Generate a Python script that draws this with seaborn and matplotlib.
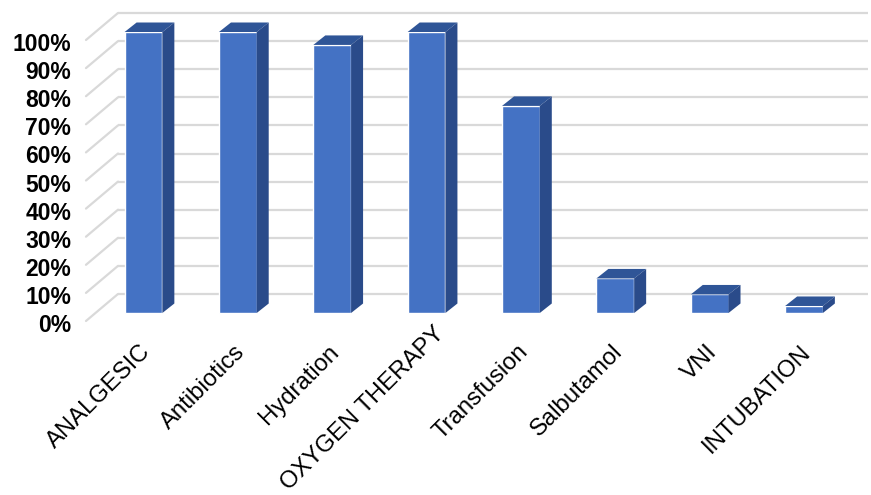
import seaborn as sns
import matplotlib.pyplot as plt
from matplotlib.patches import Polygon
from matplotlib.transforms import ScaledTranslation

""" data """
categories = ['ANALGESIC', 'Antibiotics', 'Hydration', 'OXYGEN THERAPY',
              'Transfusion', 'Salbutamol', 'VNI', 'INTUBATION']
percent = [100, 100, 95.4, 100, 73.7, 12.3, 6.6, 2.5]
yticks = list(range(0, 101, 10))
ytick_labels = ['{}%'.format(t) for t in yticks]

""" config """
sns.set_theme(style='white')
plt.rcParams['font.family'] = ['Liberation Sans', 'DejaVu Sans']

FRONT = '#4472C4'
TOP = '#2F5597'
SIDE = '#2A4B8A'
GRID = '#D9D9D9'

W, H = 871, 495
PX_X = 94.36   # pixels per category
PX_Y = 2.81    # pixels per percent

fig = plt.figure(figsize=(W / 100, H / 100), dpi=100)
ax = fig.add_axes([96.3 / W, (H - 313) / H, 8 * PX_X / W, 100 * PX_Y / H])

# fake 3d offsets (in data units)
bar_dx, bar_dy = 12 / PX_X, 9.5 / PX_Y
wall_dy = 19 / PX_Y
front_dy = -8 / PX_Y
wall_x0, wall_x1 = (118 - 143.5) / PX_X, (868 - 143.5) / PX_X
front_x0 = (86 - 143.5) / PX_X

# back wall gridlines + left side diagonals
for t in yticks:
    ax.plot([wall_x0, wall_x1], [t + wall_dy] * 2, color=GRID, lw=1.6,
            clip_on=False, zorder=0, solid_capstyle='butt')
    ax.plot([front_x0, wall_x0], [t + front_dy, t + wall_dy], color=GRID,
            lw=1.6, clip_on=False, zorder=0)

sns.barplot(x=categories, y=percent, color=FRONT, saturation=1, width=0.4,
            ax=ax, zorder=3)

for p in ax.patches:
    x0, w, h = p.get_x(), p.get_width(), p.get_height()
    top = Polygon([(x0, h), (x0 + bar_dx, h + bar_dy), (x0 + w + bar_dx, h + bar_dy), (x0 + w, h)],
                  closed=True, fc=TOP, ec='none', clip_on=False, zorder=3)
    side = Polygon([(x0 + w, 0), (x0 + w, h), (x0 + w + bar_dx, h + bar_dy), (x0 + w + bar_dx, bar_dy)],
                   closed=True, fc=SIDE, ec='none', clip_on=False, zorder=3)
    ax.add_patch(top)
    ax.add_patch(side)
    p.set_clip_on(False)

ax.set_xlim(-0.5, 7.5)
ax.set_ylim(0, 100)
for s in ax.spines.values():
    s.set_visible(False)

ax.set_yticks(yticks)
ax.set_yticklabels(ytick_labels, fontweight='bold', fontsize=16.5, color='black')
ax.tick_params(axis='y', length=0, pad=18)
for lab in ax.get_yticklabels():
    lab.set_transform(lab.get_transform() + ScaledTranslation(0, -0.1, fig.dpi_scale_trans))

ax.set_xticks(range(len(categories)))
ax.set_xticklabels(categories, rotation=45, ha='right', rotation_mode='anchor',
                   fontsize=17.2, color='black')
ax.tick_params(axis='x', length=0, pad=20)
for lab in ax.get_xticklabels():
    # the long label sits higher so it stays inside the picture
    shift = (0.07, 0.18) if lab.get_text() == 'OXYGEN THERAPY' else (-0.04, 0)
    lab.set_transform(lab.get_transform() + ScaledTranslation(shift[0], shift[1], fig.dpi_scale_trans))
ax.set_xlabel('')
ax.set_ylabel('')

fig.savefig('out.png', dpi=100)
